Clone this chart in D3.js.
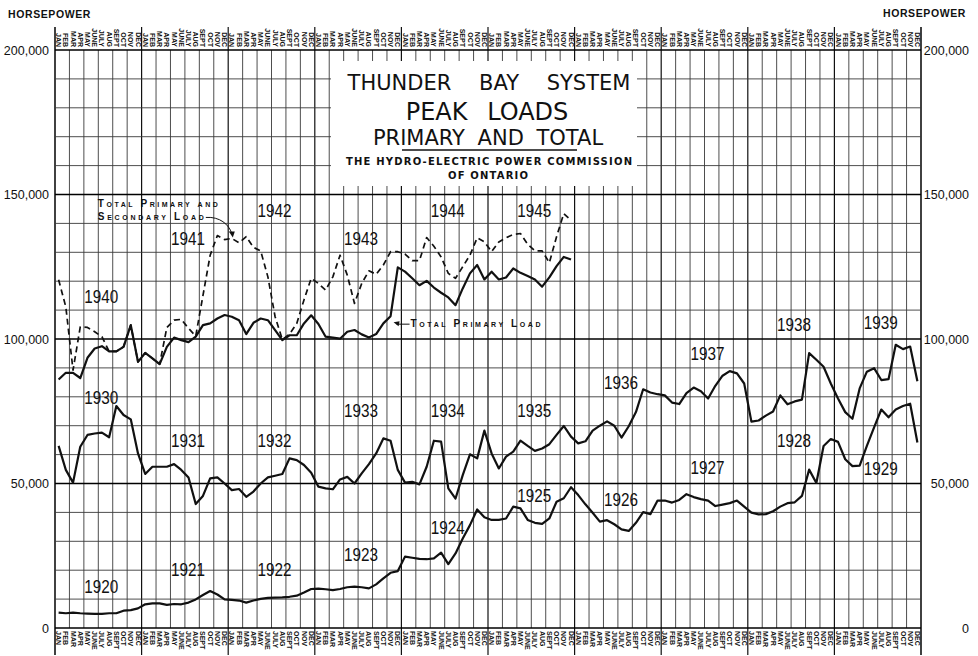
<!DOCTYPE html>
<html>
<head>
<meta charset="utf-8">
<script src="https://cdn.jsdelivr.net/npm/d3@7"></script>
<style>
  body { margin: 0; background: #fff; }
</style>
</head>
<body>
<div id="chart"></div>
<script>
// Month names printed above and below the grid
const months = ["JAN", "FEB", "MAR", "APR", "MAY", "JUNE", "JULY", "AUG", "SEPT", "OCT", "NOV", "DEC"];

// Horsepower ticks
const yTicks = [0, 50000, 100000, 150000, 200000];

// Monthly peak loads (horsepower)
// 1920 - 1929 (bottom curve)
const load1920s = [
  5300, 5100, 5300, 5100, 5000, 4900, 4900, 5100, 5100, 6000, 6200, 6800,
  8200, 8500, 8500, 8000, 8300, 8200, 8800, 9900, 11400, 12800, 11600, 9900,
  9700, 9500, 8800, 9500, 10100, 10400, 10500, 10600, 10800, 11200, 12300, 13500,
  13600, 13400, 13100, 13500, 14100, 14300, 14100, 13700, 15100, 17200, 19100, 19700,
  24700, 24300, 23900, 23800, 24100, 26100, 22100, 25800, 31000, 35600, 41000, 38300,
  37400, 37400, 37900, 42000, 41400, 37400, 36400, 36000, 37900, 43700, 44900, 48700,
  46000, 42800, 39900, 36800, 37300, 35900, 34100, 33600, 36400, 40100, 39400, 44100,
  44100, 43400, 44300, 46300, 45300, 44600, 44100, 42200, 42700, 43200, 44100, 42000,
  39900, 39300, 39400, 40400, 42000, 43200, 43500, 45700, 54800, 50200, 63000, 65400,
  64400, 58400, 56000, 56200, 63000, 69400, 75600, 72900, 75600, 76800, 77600, 64200
];

// 1930 - 1939 (middle curve)
const load1930s = [
  63000, 54700, 50300, 62700, 66800, 67300, 67600, 66000, 76800, 73700, 72200, 60400,
  53300, 55800, 55800, 55800, 56700, 54700, 52100, 42900, 45700, 51800, 52100, 50000,
  47700, 48100, 45400, 47200, 50000, 52100, 52700, 53300, 58700, 58100, 56400, 53700,
  48900, 48300, 48000, 51400, 52300, 50000, 53500, 56700, 60400, 65600, 64800, 54700,
  50300, 50600, 49700, 55800, 64800, 64500, 48300, 44800, 52900, 60100, 58700, 68300,
  60400, 55200, 59300, 61000, 64800, 63000, 61300, 62100, 63600, 66800, 69900, 66200,
  63900, 64600, 68300, 70000, 71500, 70000, 65900, 69800, 74700, 82600, 81500, 80900,
  80500, 78000, 77500, 81300, 83200, 81900, 79400, 83800, 87300, 88900, 88100, 84600,
  71400, 71800, 73500, 74900, 80500, 77400, 78400, 79000, 95100, 92800, 90400, 84600,
  79400, 74700, 72400, 82900, 88700, 89900, 85800, 86100, 98000, 96500, 97400, 85400
];

// 1940 - 1945 total primary load (solid)
const primary1940s = [
  86000, 88300, 88300, 86500, 93500, 96700, 97500, 95700, 95700, 97300, 104800, 92100,
  95200, 93300, 91300, 97300, 100500, 99600, 98900, 100800, 104800, 105400, 107100, 108300,
  107700, 106500, 101700, 105600, 107100, 106500, 103100, 99600, 101300, 101300, 105400, 108200,
  105200, 100800, 100500, 100100, 102500, 103100, 101600, 100500, 101700, 105400, 107900, 124800,
  123300, 121000, 118600, 120100, 117800, 116000, 114400, 111700, 117500, 122700, 125600, 120600,
  123300, 120600, 121300, 124400, 122900, 121800, 120600, 118100, 121300, 125200, 128400, 127500
];

// 1940 - 1945 total primary and secondary load (dashed)
const total1940s = [
  120500, 111100, 89200, 104200, 104000, 102500, 100800, 95700, 95700, 97300, 104800, 92100,
  95200, 93300, 91300, 104000, 106500, 106800, 103700, 101000, 115000, 129000, 135800, 134400,
  134800, 133300, 135400, 131700, 130500, 121500, 107700, 99800, 101700, 105400, 113500, 121000,
  119200, 116900, 121500, 129000, 122100, 112300, 119200, 123600, 122400, 125600, 130200, 130200,
  129400, 127100, 127100, 135100, 132100, 128400, 122700, 121000, 125000, 129000, 135000, 133600,
  130200, 133600, 135000, 136200, 136500, 132800, 130500, 130500, 126400, 135400, 143400, 141100
];

// Year captions: text, month index on the 10-year axis, horsepower level
const yearLabels = [
  ["1920", 6, 14300], ["1921", 18, 20100], ["1922", 30, 20100], ["1923", 42, 25300],
  ["1924", 54, 34900], ["1925", 66, 46000], ["1926", 78, 44600], ["1927", 90, 55400],
  ["1928", 102, 64800], ["1929", 114, 55200],
  ["1930", 6, 79600], ["1931", 18, 65000], ["1932", 30, 65000], ["1933", 42, 75200],
  ["1934", 54, 75200], ["1935", 66, 75400], ["1936", 78, 85000], ["1937", 90, 95100],
  ["1938", 102, 105000], ["1939", 114, 105600],
  ["1940", 6, 114600], ["1941", 18, 134600], ["1942", 30, 144600], ["1943", 42, 134900],
  ["1944", 54, 144600], ["1945", 66, 144600]
];

const W = 978, H = 656;
const sans = "'Liberation Sans', Arial, sans-serif";
const ink = "#111";

const svg = d3.select("#chart")
  .append("svg")
    .attr("width", W)
    .attr("height", H)
    .style("background", "#fff");

// scales: 120 months across, horsepower up
const x = d3.scaleLinear().domain([0, 120]).range([55, 921]);
const y = d3.scaleLinear().domain([0, 200000]).range([628, 50]);
const mx = i => x(i + 0.5);

// vertical grid, one line every two months, a bit heavier at the turn of the year
svg.append("g")
  .selectAll("line")
  .data(d3.range(0, 121, 2))
  .join("line")
    .attr("x1", d => x(d))
    .attr("x2", d => x(d))
    .attr("y1", d => d % 12 === 0 ? 27 : y(200000))
    .attr("y2", d => d % 12 === 0 ? 655 : y(0))
    .attr("stroke", d => d % 12 === 0 ? "#111" : "#3a3a3a")
    .attr("stroke-width", d => (d === 0 || d === 120) ? 1.6 : d % 12 === 0 ? 1.2 : 0.9);

// horizontal grid every 10,000 hp
svg.append("g")
  .selectAll("line")
  .data(d3.range(0, 200001, 10000))
  .join("line")
    .attr("x1", x(0))
    .attr("x2", x(120))
    .attr("y1", d => y(d))
    .attr("y2", d => y(d))
    .attr("stroke", d => d % 50000 === 0 ? "#000" : "#3a3a3a")
    .attr("stroke-width", d => d % 50000 === 0 ? 1.6 : 0.9);

// month names, rotated, above and below the grid
const monthIdx = d3.range(120);
svg.append("g")
  .selectAll("text")
  .data(monthIdx)
  .join("text")
    .attr("transform", d => `translate(${mx(d)},47) rotate(90)`)
    .attr("dy", "0.35em")
    .attr("text-anchor", "end")
    .style("font-family", sans)
    .style("font-size", "7px")
    .style("font-weight", "bold")
    .style("fill", ink)
    .text(d => months[d % 12]);

svg.append("g")
  .selectAll("text")
  .data(monthIdx)
  .join("text")
    .attr("transform", d => `translate(${mx(d)},631) rotate(90)`)
    .attr("dy", "0.35em")
    .attr("text-anchor", "start")
    .style("font-family", sans)
    .style("font-size", "7px")
    .style("font-weight", "bold")
    .style("fill", ink)
    .text(d => months[d % 12]);

// y axes on both sides
const fmt = d3.format(",");
svg.append("g")
  .attr("transform", `translate(${x(0)},0)`)
  .call(d3.axisLeft(y).tickValues(yTicks).tickSize(0).tickPadding(6).tickFormat(fmt))
  .call(g => g.select(".domain").remove())
  .attr("font-family", sans)
  .attr("font-size", 12.5)
  .selectAll("text").attr("fill", ink);

svg.append("g")
  .attr("transform", `translate(${x(120)},0)`)
  .call(d3.axisRight(y).tickValues(yTicks).tickSize(0).tickFormat(fmt))
  .call(g => g.select(".domain").remove())
  .attr("font-family", sans)
  .attr("font-size", 12.5)
  .selectAll("text")
    .attr("x", 48)
    .attr("text-anchor", "end")
    .attr("fill", ink);

// unit captions
svg.append("text")
  .attr("x", 8).attr("y", 18)
  .style("font-family", sans).style("font-size", "10.5px").style("font-weight", "bold")
  .style("letter-spacing", "0.6px").style("fill", ink)
  .text("HORSEPOWER");
svg.append("text")
  .attr("x", 966).attr("y", 17)
  .attr("text-anchor", "end")
  .style("font-family", sans).style("font-size", "10.5px").style("font-weight", "bold")
  .style("letter-spacing", "0.6px").style("fill", ink)
  .text("HORSEPOWER");

// title panel sits over the grid
svg.append("rect")
  .attr("x", 331).attr("y", 61)
  .attr("width", 306).attr("height", 125)
  .attr("fill", "#fff");

const title = svg.append("g")
  .style("font-family", "'DejaVu Sans', Verdana, sans-serif")
  .style("fill", ink)
  .attr("text-anchor", "middle");

title.append("text")
  .attr("x", 489).attr("y", 90)
  .style("font-size", "21px")
  .style("word-spacing", "21px")
  .text("THUNDER BAY SYSTEM");
title.append("text")
  .attr("x", 487).attr("y", 120)
  .style("font-size", "24px")
  .style("word-spacing", "12px")
  .text("PEAK LOADS");
title.append("text")
  .attr("x", 488).attr("y", 145)
  .style("font-size", "21px")
  .style("word-spacing", "6px")
  .text("PRIMARY AND TOTAL");
title.append("line")
  .attr("x1", 402).attr("x2", 577)
  .attr("y1", 150).attr("y2", 150)
  .attr("stroke", ink).attr("stroke-width", 1.5);
title.append("text")
  .attr("x", 489).attr("y", 165)
  .attr("textLength", 286).attr("lengthAdjust", "spacing")
  .style("font-size", "10px").style("font-weight", "bold")
  .text("THE HYDRO-ELECTRIC POWER COMMISSION");
title.append("text")
  .attr("x", 488).attr("y", 179)
  .attr("textLength", 80).attr("lengthAdjust", "spacing")
  .style("font-size", "10px").style("font-weight", "bold")
  .text("OF ONTARIO");

// year captions
svg.append("g")
  .selectAll("text")
  .data(yearLabels)
  .join("text")
    .attr("x", d => x(d[1]) + 3)
    .attr("y", d => y(d[2]))
    .attr("dy", "0.36em")
    .attr("text-anchor", "middle")
    .attr("textLength", 34)
    .attr("lengthAdjust", "spacingAndGlyphs")
    .style("font-family", sans)
    .style("font-size", "18px")
    .style("fill", ink)
    .text(d => d[0]);

// the load curves
const line = d3.line()
  .x((d, i) => mx(i))
  .y(d => y(d));

const series = [
  { values: load1920s, dash: null },
  { values: load1930s, dash: null },
  { values: primary1940s, dash: null },
  { values: total1940s, dash: "6,4" }
];

svg.append("g")
  .selectAll("path")
  .data(series)
  .join("path")
    .attr("fill", "none")
    .attr("stroke", ink)
    .attr("stroke-width", d => d.dash ? 1.7 : 2.2)
    .attr("stroke-linejoin", "round")
    .attr("stroke-dasharray", d => d.dash)
    .attr("d", d => line(d.values));

// annotations
const note = svg.append("g")
  .style("font-family", sans)
  .style("font-weight", "bold")
  .style("font-variant", "small-caps")
  .style("font-size", "10px")
  .style("fill", ink);

// total primary and secondary load, arrow into Jan 1942
const t1 = [mx(24), y(total1940s[24]) - 2];
note.append("text")
  .attr("x", t1[0] - 134).attr("y", t1[1] - 29)
  .attr("textLength", 120).attr("lengthAdjust", "spacing")
  .text("Total Primary and");
note.append("text")
  .attr("x", t1[0] - 134).attr("y", t1[1] - 16)
  .attr("textLength", 106).attr("lengthAdjust", "spacing")
  .text("Secondary Load");
svg.append("path")
  .attr("fill", "none").attr("stroke", ink).attr("stroke-width", 1)
  .attr("d", `M${t1[0] - 26},${t1[1] - 19} C${t1[0] - 12},${t1[1] - 20} ${t1[0] - 3},${t1[1] - 12} ${t1[0]},${t1[1] - 3}`);
svg.append("path")
  .attr("fill", ink)
  .attr("d", `M${t1[0] + 1},${t1[1] + 1} l-4,-6 l6,0 z`);

// total primary load, arrow into the 1943 step
const t2 = [mx(46) + 3, y(primary1940s[46]) + 6];
svg.append("line")
  .attr("x1", t2[0] + 3).attr("x2", t2[0] + 16)
  .attr("y1", t2[1] + 2).attr("y2", t2[1] + 2)
  .attr("stroke", ink).attr("stroke-width", 1);
svg.append("path")
  .attr("fill", ink)
  .attr("d", `M${t2[0]},${t2[1]} l6,-1 l-1,5 z`);
note.append("text")
  .attr("x", t2[0] + 17).attr("y", t2[1] + 5)
  .attr("textLength", 130).attr("lengthAdjust", "spacing")
  .text("Total Primary Load");
</script>
</body>
</html>
